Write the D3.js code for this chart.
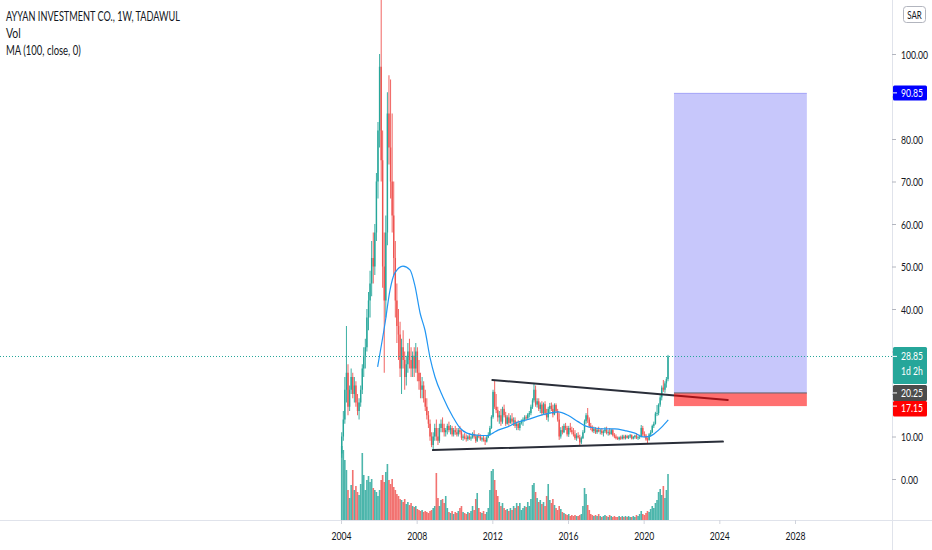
<!DOCTYPE html>
<html><head><meta charset="utf-8">
<script src="https://cdn.jsdelivr.net/npm/d3@7"></script>
<style>html,body{margin:0;padding:0;background:#fff;} svg{display:block;}</style>
</head><body>
<svg id="chart" width="932" height="550"></svg>
<script>
// ---------------- DATA (monthly) ----------------
const firstMonth = "2004-01";
const open = [
 6,10,14,21,25,17,21,24,20,22,18,16,
 18,21,26,29,31,38,42,46,52,50,58,70,
 82,97,75,50,42,58,86,78,70,62,52,42,
 36,34,26,31,28,24,27,30,28,26,29,26,
 30,25,23,21,22,19,17,15,13,10,8,10,
 12,10,9,12,13,12,11,11.5,12.5,11.5,12,10.5,
 11.5,11,10.5,11.5,11,9.7,10,9.6,9.4,10,9.5,9.8,
 10.6,10,9,10.2,10,9.3,9.6,9.2,8.8,9.8,10.4,12,
 14.6,20.5,17,16.2,14.5,15,13.5,16.5,15,13,14.5,13.2,
 14.2,13.5,13.8,12.5,13,12,13.2,13.6,14,14.5,14.3,15.2,
 15.5,17,18.5,21,17.5,18.3,16.5,17.5,15.5,17.6,15.5,14.5,
 16.5,17.2,16.5,15.2,17.4,16,14,10,11.5,11,12.5,12,
 10.5,12,11.5,11,10.5,9.6,10.2,9.8,8.6,9.6,11,13.6,
 15,14,12.5,12,11.3,11.8,11,11.6,11.2,11.4,10.8,11.2,
 11.6,10.8,11,10.6,11.5,10.3,10,9.6,9.4,9.8,9.5,10,
 9.6,10.1,9.7,10,10.3,9.5,9.9,10.2,9.6,9.8,10,12,
 10.5,10.2,9.3,9.2,10.5,11,12.5,13,15.4,15.5,17.5,19.2,
 21.5,21,22.5,23.5
];
const high = [
 11,16,24,36,27,22,26,25,24,23,20,19,
 22,27,31,33,40,44,49,56,58,60,72,84,
 100,116,82,58,62,91,95,94,86,70,56,46,
 40,37,33,35,30,29,32,33,31,30,31,32,
 31,28,25,24,23,21,19,16,14,11,11,13,
 14,12,13,14,14.5,13,12,13,13.5,12.7,12.5,12,
 12.5,12,12,12.5,11.5,10.5,10.8,10.5,10.3,10.8,10.2,11,
 11.5,10.5,10.5,10.8,10.5,10,10.2,9.8,10.2,11,12.5,15,
 21,23.3,20,17,16,16.5,17,17.5,15.8,15,15.5,15,
 15.5,14.5,14.5,13.5,13.8,13.5,14,14.5,15,15,15.5,16,
 17.5,19,22.6,22,19,19,18,18.3,18,18.3,16.5,17,
 17.9,18,17.5,17.8,17.8,16.5,15.5,12.2,12.5,13,13.2,12.5,
 12.5,13.2,12.3,12,11.5,10.8,11,10.4,10,11.5,14,15.5,
 16.7,14.5,13.2,12.6,12.3,12.2,12,12.3,11.8,12,11.5,12.2,
 12.3,11.5,12,11.8,11.8,10.8,10.5,10,10,10.2,10.4,10.4,
 10.4,10.4,10.3,10.6,10.5,10.1,10.4,10.8,10.2,10.4,12.7,12.5,
 11.2,10.6,9.8,10.8,11.5,12.8,13.5,15.8,17.4,17.8,19.8,22,
 23.3,23,24,29.2
];
const low = [
 5,9,13,18,15,16,20,19,18,17,15,14,
 17,20,24,26,30,35,38,43,46,48,56,66,
 78,70,45,25,38,55,74,66,58,48,38,32,
 28,24,20,26,21,22,25,26,24,24,24,25,
 23,21,19,19,18,16,14,12,9,7.5,6.8,9,
 9,8,8.5,11,11,10,10,10.5,11,10.5,10,10,
 10.4,10,10,10.5,9.2,9,9.3,8.8,9,9.2,9,9.5,
 9.5,8.5,8.7,9.6,9,8.8,8.8,8,8.6,9.6,10.2,11.8,
 14.2,16.5,15.5,13.5,13,12.5,13,14.5,12.5,12.8,12.5,13,
 12.8,12.5,12,11.5,11.5,11.4,12.8,12.5,13.5,13.8,14,14.5,
 15,16.5,18,17,16.8,16,15.5,15,15.2,15,13.9,13.5,
 15.5,16,14.5,15,15.5,13.5,9.2,9.5,10.5,10.8,11.5,10,
 9.9,11,10.5,10,9.2,9,9.5,8,8.2,9.4,10.8,13,
 13.2,12,11.5,11,10.8,10.6,10.6,11,10.5,10.4,10,10.8,
 10.5,10.2,10.3,10.4,10,9.6,9.3,9.2,9.1,9.2,9.3,9.3,
 9.3,9.5,9.4,9.6,9.3,9.3,9.5,9.4,9.2,9.4,9.8,10,
 9.8,9,8.4,9,10,10.8,12,12.8,14.8,15,17,18.5,
 20.5,20.3,21.5,23
];
const close = [
 10,14,21,25,17,21,24,20,22,18,16,18,
 21,26,29,31,38,42,46,52,50,58,70,82,
 97,75,50,42,58,86,78,70,62,52,42,36,
 34,26,31,28,24,27,30,28,26,29,26,30,
 25,23,21,22,19,17,15,13,10,8,10,12,
 10,9,12,13,12,11,11.5,12.5,11.5,12,10.5,11.5,
 11,10.5,11.5,11,9.7,10,9.6,9.4,10,9.5,9.8,10.6,
 10,9,10.2,10,9.3,9.6,9.2,8.8,9.8,10.4,12,14.6,
 20.5,17,16.2,14.5,15,13.5,16.5,15,13,14.5,13.2,14.2,
 13.5,13.8,12.5,13,12,13.2,13.6,14,14.5,14.3,15.2,15.5,
 17,18.5,21,17.5,18.3,16.5,17.5,15.5,17.6,15.5,14.5,16.5,
 17.2,16.5,15.2,17.4,16,14,10,11.5,11,12.5,12,10.5,
 12,11.5,11,10.5,9.6,10.2,9.8,8.6,9.6,11,13.6,15,
 14,12.5,12,11.3,11.8,11,11.6,11.2,11.4,10.8,11.2,11.6,
 10.8,11,10.6,11.5,10.3,10,9.6,9.4,9.8,9.5,10,9.6,
 10.1,9.7,10,10.3,9.5,9.9,10.2,9.6,9.8,10,12,10.5,
 10.2,9.3,9.2,10.5,11,12.5,13,15.4,15.5,17.5,19.2,21.5,
 21,22.5,23.5,28.85
];
const volume = [
 74,70,60,50,30,22,35,50,30,34,28,25,
 36,67,45,30,40,44,38,41,32,30,28,24,
 30,40,45,38,48,56,40,36,41,33,30,26,
 24,21,20,18,21,16,18,15,17,14,13,14,
 11,10,9,10,8,9,8,7,9,10,12,14,
 47,22,14,20,21,17,24,12,8,7,9,6,
 8,7,9,12,14,8,7,6,8,7,9,14,
 10,21,27,12,8,7,9,6,8,12,30,49,
 51,40,30,24,18,14,17,12,10,11,9,12,
 10,14,12,17,14,17,10,12,14,13,18,14,
 21,35,37,28,22,18,20,16,18,14,24,36,
 20,17,21,15,12,10,14,11,8,7,6,5,
 6,4,5,4,5,4,4,5,6,14,32,26,
 15,10,6,5,4,5,4,6,4,3,4,5,
 4,3,5,4,3,4,3,3,4,3,4,3,
 4,3,4,3,3,4,3,5,4,6,9,6,
 5,7,9,8,11,14,12,17,20,28,31,25,
 34,22,30,46
];
// MA (100, close)
const maDates = ["2005-12-08","2006-05-01","2006-08-05","2006-11-06","2007-04-12","2007-08-25","2007-11-28","2008-03-08","2008-06-10","2008-09-16","2008-12-20","2009-05-22","2009-12-01","2010-04-16","2010-08-28","2011-03-10","2011-10-08","2012-01-12","2012-04-20","2012-10-08","2013-05-12","2013-11-18","2014-05-30","2015-01-20","2015-06-20","2016-01-01","2016-07-12","2016-11-25","2017-06-06","2017-12-14","2018-06-24","2019-01-04","2019-07-16","2019-12-20","2020-03-26","2020-08-08","2020-12-14","2021-04-20"];
const maValues = [26.4,36.7,44.5,48.5,50.1,49.2,45.5,39,35,28.5,24,19.3,14.6,12,10.8,10.3,10.2,10.8,11.5,12.2,13.4,14,14.8,15.5,15.8,15,13.5,12.5,12,11.8,11.8,11.4,10.8,9.9,9.95,10.8,12.2,13.9];
// trendlines
const upperTrendDates = ["2012-01-01","2024-06-12"];
const upperTrendValues = [23.3,18.6];
const lowerTrendDates = ["2008-11-10","2024-03-10"];
const lowerTrendValues = [6.8,8.8];
// long position tool
const positionDates = ["2021-08-08","2028-08-17"];
const targetPrice = 90.85, entryPrice = 20.25, stopPrice = 17.15, lastPrice = 28.85;
const priceTicks = [0,10,20,30,40,50,60,70,80,90,100];
const hiddenTickLabels = [20,30,90]; // covered by the price labels in the reference
const yearTicks = [2004,2008,2012,2016,2020,2024,2028];
const legendLines = ["AYYAN INVESTMENT CO., 1W, TADAWUL","Vol","MA (100, close, 0)"];

// ---------------- CHART ----------------
const svg = d3.select("#chart");
const W = 932, H = 550, plotRight = 892, plotBottom = 520;
const FONT = "Lato, 'Liberation Sans', sans-serif";
const UP = "#26a69a", DOWN = "#ef5350";
const SX = 0.72;
const parseMonth = d3.timeParse("%Y-%m");
const parseDay = d3.timeParse("%Y-%m-%d");

const x = d3.scaleTime().domain([new Date(2004,0,1), new Date(2028,0,1)]).range([341, 795]);
const y = d3.scaleLinear().domain([0,100]).range([479, 54]);
const yVol = d3.scaleLinear().domain([0,75]).range([plotBottom, 445]);

const start = parseMonth(firstMonth);
const bars = close.map((c,i)=>({
  date: d3.timeDay.offset(d3.timeMonth.offset(start,i),14),
  o: open[i], h: high[i], l: low[i], c: c, v: volume[i]
}));

svg.append("rect").attr("width",W).attr("height",H).attr("fill","#fff");
svg.append("defs").append("clipPath").attr("id","plot")
  .append("rect").attr("x",0).attr("y",0).attr("width",plotRight).attr("height",plotBottom);

const plot = svg.append("g").attr("clip-path","url(#plot)");

// volume
const step = x(new Date(2004,1,15)) - x(new Date(2004,0,15));
plot.append("g").selectAll("rect").data(bars).join("rect")
  .attr("x", d=>x(d.date)-step/2)
  .attr("width", step)
  .attr("y", d=>yVol(d.v))
  .attr("height", d=>plotBottom - yVol(d.v))
  .attr("fill", d=> d.c>=d.o ? UP : DOWN)
  .attr("fill-opacity", 0.82);

// candles
const cg = plot.append("g");
cg.selectAll("line").data(bars).join("line")
  .attr("x1", d=>x(d.date)).attr("x2", d=>x(d.date))
  .attr("y1", d=>y(d.h)).attr("y2", d=>y(d.l))
  .attr("stroke", d=> d.c>=d.o ? UP : DOWN)
  .attr("stroke-width", 0.9);
cg.selectAll("rect").data(bars).join("rect")
  .attr("x", d=>x(d.date)-0.7).attr("width", 1.4)
  .attr("y", d=>y(Math.max(d.o,d.c)))
  .attr("height", d=>Math.max(0.8, Math.abs(y(d.o)-y(d.c))))
  .attr("fill", d=> d.c>=d.o ? UP : DOWN);

// MA
const maPts = maDates.map((d,i)=>({date: parseDay(d), v: maValues[i]}));
plot.append("path").datum(maPts)
  .attr("d", d3.line().x(d=>x(d.date)).y(d=>y(d.v)).curve(d3.curveMonotoneX))
  .attr("fill","none").attr("stroke","#2196f3").attr("stroke-width",1.2);

// trendlines
function trend(dates, vals){
  plot.append("line")
    .attr("x1", x(parseDay(dates[0]))).attr("y1", y(vals[0]))
    .attr("x2", x(parseDay(dates[1]))).attr("y2", y(vals[1]))
    .attr("stroke","#2a2e39").attr("stroke-width",2).attr("stroke-linecap","round");
}
trend(upperTrendDates, upperTrendValues);
trend(lowerTrendDates, lowerTrendValues);

// position tool
const px0 = x(parseDay(positionDates[0])), px1 = x(parseDay(positionDates[1]));
plot.append("rect").attr("x",px0).attr("width",px1-px0)
  .attr("y",y(targetPrice)).attr("height",y(entryPrice)-y(targetPrice))
  .attr("fill","rgb(20,20,240)").attr("fill-opacity",0.24);
plot.append("line").attr("x1",px0).attr("x2",px1).attr("y1",y(targetPrice)+0.5).attr("y2",y(targetPrice)+0.5)
  .attr("stroke","rgb(20,20,240)").attr("stroke-opacity",0.18).attr("stroke-width",1);
plot.append("rect").attr("x",px0).attr("width",px1-px0)
  .attr("y",y(entryPrice)).attr("height",y(stopPrice)-y(entryPrice))
  .attr("fill","rgb(255,0,0)").attr("fill-opacity",0.56);
plot.append("line").attr("x1",px0).attr("x2",px1).attr("y1",y(entryPrice)).attr("y2",y(entryPrice))
  .attr("stroke","#5d606b").attr("stroke-width",1);

// last price dotted line
plot.append("line").attr("x1",0).attr("x2",plotRight)
  .attr("y1",Math.round(y(lastPrice))+0.5).attr("y2",Math.round(y(lastPrice))+0.5)
  .attr("stroke",UP).attr("stroke-width",1).attr("stroke-dasharray","1,2");

// frame lines
svg.append("line").attr("x1",plotRight+0.5).attr("x2",plotRight+0.5).attr("y1",0).attr("y2",H)
  .attr("stroke","#e0e3eb");
svg.append("line").attr("x1",0).attr("x2",W).attr("y1",plotBottom+0.5).attr("y2",plotBottom+0.5)
  .attr("stroke","#e0e3eb");

// bottom axis
const xAxis = svg.append("g").attr("transform",`translate(0,${plotBottom})`)
  .call(d3.axisBottom(x).tickValues(yearTicks.map(v=>new Date(v,0,1)))
    .tickFormat(d3.timeFormat("%Y")).tickSize(4));
xAxis.select(".domain").remove();
xAxis.selectAll("line").attr("stroke","#d1d4dc");
xAxis.selectAll("text").attr("y",0).attr("dy",0)
  .attr("transform",`translate(0,20) scale(${SX},1)`)
  .attr("font-family",FONT).attr("font-size",12).attr("fill","#131722");

// right axis
const fmt2 = d3.format(".2f");
const yAxis = svg.append("g").attr("transform",`translate(${plotRight},0)`)
  .call(d3.axisRight(y).tickValues(priceTicks)
    .tickFormat(v => hiddenTickLabels.includes(v) ? "" : fmt2(v)).tickSize(4));
yAxis.select(".domain").remove();
yAxis.selectAll("line").attr("stroke","#b2b5be");
yAxis.selectAll("text").attr("x",0).attr("dy","0.36em")
  .attr("transform",`translate(9,0) scale(${SX},1)`)
  .attr("font-family",FONT).attr("font-size",12).attr("fill","#131722");

// helper for narrow text
function ntext(str, tx, ty, opts={}){
  return svg.append("text").text(str)
    .attr("transform",`translate(${tx},${ty}) scale(${opts.sx||SX},1)`)
    .attr("font-family",FONT).attr("font-size",opts.size||12)
    .attr("fill",opts.fill||"#131722")
    .attr("text-anchor",opts.anchor||"start");
}

// price labels
function priceBox(top, h, color){
  svg.append("rect").attr("x",plotRight+1).attr("y",top).attr("width",34).attr("height",h)
    .attr("rx",1.5).attr("fill",color);
}
function whiteTick(py){
  svg.append("line").attr("x1",plotRight+1).attr("x2",plotRight+5).attr("y1",py).attr("y2",py)
    .attr("stroke","#fff").attr("stroke-width",1);
}
const yT = y(targetPrice);
priceBox(yT-7.5, 15, "#0000ff"); whiteTick(yT);
ntext(fmt2(targetPrice), 901, yT+4, {fill:"#fff"});

const yL = y(lastPrice);
priceBox(yL-9.5, 37, UP); whiteTick(yL);
ntext(fmt2(lastPrice), 901, yL+4, {fill:"#fff"});
ntext("1d 2h", 901, yL+18.5, {fill:"#fff"});

const yE = y(entryPrice);
const grayTop = yE-8;
priceBox(grayTop, 16, "#4c4c4c"); whiteTick(yE);
ntext(fmt2(entryPrice), 901, yE+4, {fill:"#fff"});
const redTop = grayTop+16;
priceBox(redTop, 15.5, "#ff0000"); whiteTick(y(stopPrice));
ntext(fmt2(stopPrice), 901, redTop+11.5, {fill:"#fff"});

// SAR currency box
svg.append("rect").attr("x",903.5).attr("y",6.5).attr("width",22).attr("height",16).attr("rx",3)
  .attr("fill","#fff").attr("stroke","#b2b5be");
ntext("SAR", 914.5, 18.5, {anchor:"middle", size:11});

// legend
const legendY = [20.5, 37.5, 55];
const legendW = [174, 14.7, 74.7];
legendLines.forEach((t,i)=>{
  svg.append("text").text(t).attr("x",6).attr("y",legendY[i])
    .attr("font-family",FONT).attr("font-size",12.5).attr("fill","#131722")
    .attr("textLength",legendW[i]).attr("lengthAdjust","spacingAndGlyphs");
});
</script>
</body></html>
